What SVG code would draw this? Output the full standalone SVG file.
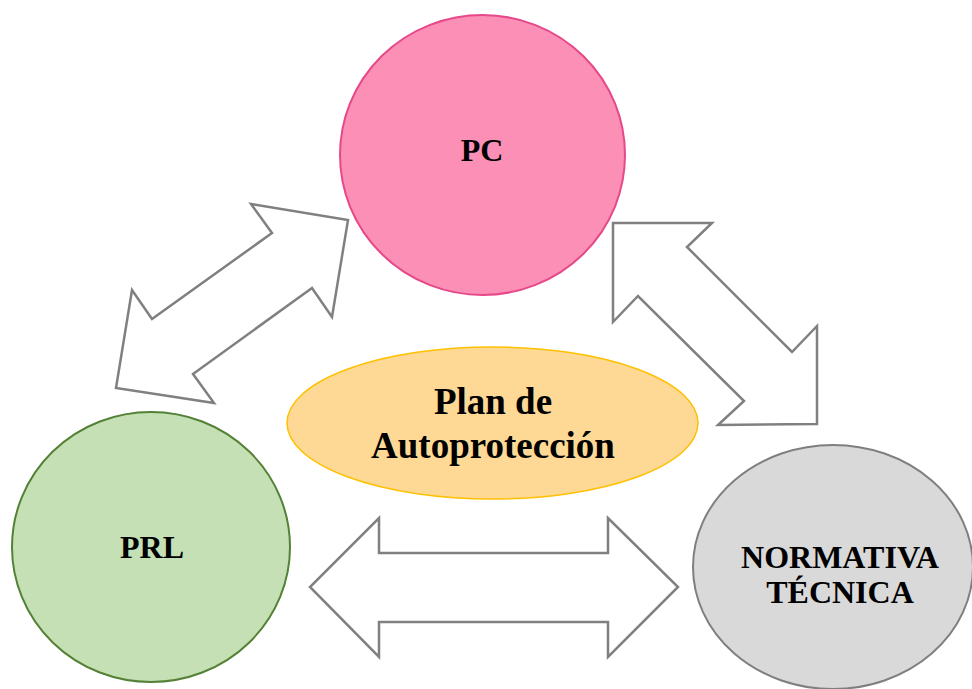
<svg xmlns="http://www.w3.org/2000/svg" width="972" height="689" viewBox="0 0 972 689">
<style>
.arrow{fill:#FFFFFF;stroke:#808080;stroke-width:2.5;stroke-linejoin:miter}
.lbl{font-family:"Liberation Serif","Times New Roman",serif;font-weight:bold;fill:#000000;text-anchor:middle}
</style>
<rect width="972" height="689" fill="#FFFFFF"/>
<g id="connectors">
<polygon class="arrow" points="251,204 348,220 332,317 312,288 193,374 214,403 116,388 132,290 152,319 272,233"/>
<polygon class="arrow" points="613,223 712,223 687,247 792,352 817,326 817,424 718,425 744,401 638,296 613,322"/>
<polygon class="arrow" points="379,518 379,553 608,553 608,518 678,587 608,657 608,622 379,622 379,657 310,587"/>
</g>
<g id="pc">
<ellipse cx="482.5" cy="155" rx="142.5" ry="140" fill="#FB8FB5" stroke="#E6488A" stroke-width="2"/>
<text class="lbl" x="482" y="161" font-size="32">PC</text>
</g>
<g id="prl">
<ellipse cx="151" cy="547" rx="139" ry="135" fill="#C5E0B4" stroke="#538135" stroke-width="2"/>
<text class="lbl" x="152" y="558" font-size="32">PRL</text>
</g>
<g id="normativa">
<ellipse cx="833" cy="567" rx="140" ry="122" fill="#D9D9D9" stroke="#7F7F7F" stroke-width="2"/>
<text class="lbl" x="840" y="568" font-size="32">NORMATIVA</text>
<text class="lbl" x="840" y="603" font-size="32">TÉCNICA</text>
</g>
<g id="plan">
<ellipse cx="492.5" cy="423" rx="205.5" ry="76" fill="#FDD995" stroke="#FFC000" stroke-width="1.5"/>
<text class="lbl" x="493" y="414" font-size="37">Plan de</text>
<text class="lbl" x="493" y="458" font-size="37">Autoprotección</text>
</g>
</svg>
